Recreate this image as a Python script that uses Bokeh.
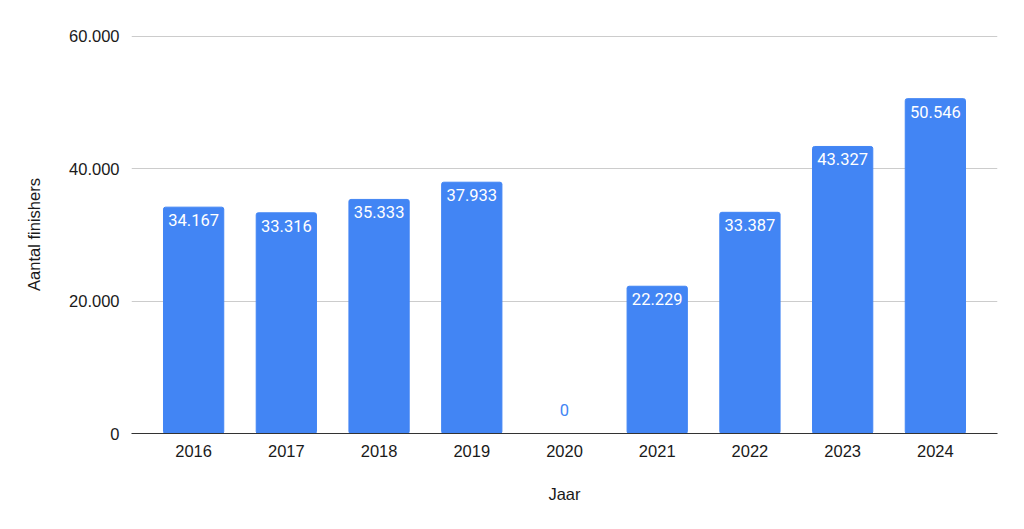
from bokeh.plotting import figure
from bokeh.models import ColumnDataSource, FixedTicker, Range1d
from bokeh.core.properties import value
from bokeh.embed import file_html
from bokeh.resources import INLINE

# data
years = ["2016", "2017", "2018", "2019", "2020", "2021", "2022", "2023", "2024"]
finishers = [34167, 33316, 35333, 37933, 0, 22229, 33387, 43327, 50546]
yticks = [0, 20000, 40000, 60000]
ytick_labels = ["0", "20.000", "40.000", "60.000"]

def dotted(n):
    return f"{n:,}".replace(",", ".")

xs = list(range(len(years)))
labels = [dotted(v) for v in finishers]

inside = ColumnDataSource(data=dict(
    x=[x for x, v in zip(xs, finishers) if v > 0],
    top=[v for v in finishers if v > 0],
    label=[l for l, v in zip(labels, finishers) if v > 0],
))
outside = ColumnDataSource(data=dict(
    x=[x for x, v in zip(xs, finishers) if v == 0],
    top=[v for v in finishers if v == 0],
    label=[l for l, v in zip(labels, finishers) if v == 0],
))

# end a hair above 60.000 so the top grid line is still drawn
p = figure(width=1008, height=513, output_backend="svg", toolbar_location=None,
           x_range=Range1d(-0.67, len(years) - 1 + 0.67), y_range=Range1d(0, 60080),
           min_border_left=131, min_border_right=11, min_border_top=35, min_border_bottom=80)
p.outline_line_color = None

src = ColumnDataSource(data=dict(x=xs, top=finishers))
p.vbar(x="x", top="top", width=0.65, source=src, color="#4285F4", border_radius=2)

p.text(x="x", y="top", text="label", source=inside, text_align="center",
       text_baseline="top", y_offset=7, text_color="white",
       text_font=value("Roboto"), text_font_size="16.5px")
p.text(x="x", y="top", text="label", source=outside, text_align="center",
       text_baseline="bottom", y_offset=-18, text_color="#4285F4",
       text_font=value("Roboto"), text_font_size="16.5px")

# axes
p.xaxis.ticker = FixedTicker(ticks=xs)
p.xaxis.major_label_overrides = {i: y for i, y in enumerate(years)}
p.yaxis.ticker = FixedTicker(ticks=yticks)
p.yaxis.major_label_overrides = {t: l for t, l in zip(yticks, ytick_labels)}

for ax in (p.xaxis, p.yaxis):
    ax.major_tick_line_color = None
    ax.minor_tick_line_color = None
    ax.major_label_text_font = "Liberation Sans"
    ax.major_label_text_font_size = "16.5px"
    ax.major_label_text_color = "#1a1a1a"
    ax.axis_label_text_font = "Liberation Sans"
    ax.axis_label_text_font_size = "16.5px"
    ax.axis_label_text_font_style = "normal"
    ax.axis_label_text_color = "#1a1a1a"

p.xaxis.major_label_standoff = 5
p.yaxis.major_label_standoff = 6
p.yaxis.axis_line_color = None
p.xaxis.axis_line_color = "#333333"
p.xaxis.axis_line_width = 1.2
p.xaxis.axis_label = "Jaar"
p.yaxis.axis_label = "Aantal finishers"
p.xaxis.axis_label_standoff = 25
p.yaxis.axis_label_standoff = 23

p.xgrid.grid_line_color = None
p.ygrid.grid_line_color = "#cccccc"
p.ygrid.grid_line_width = 1

open("out.html", "w").write(file_html(p, INLINE))
